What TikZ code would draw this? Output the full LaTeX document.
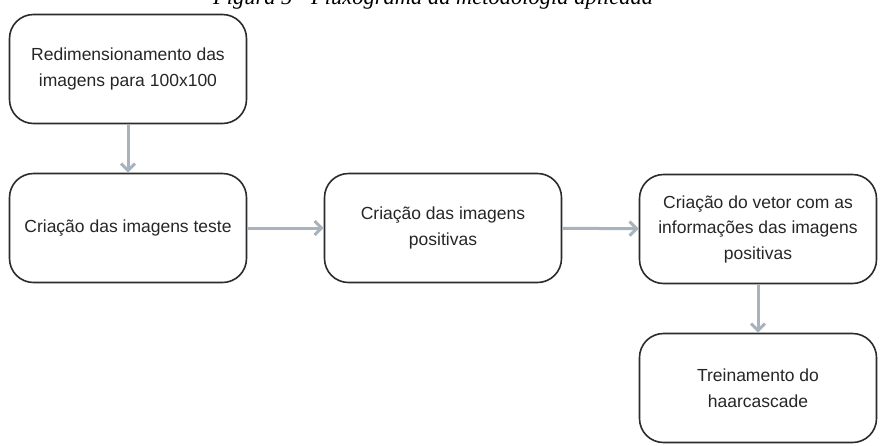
\documentclass[tikz,border=0pt]{standalone}
\usepackage{fontspec}
\setmainfont{Liberation Sans}
\newfontfamily\capfont{Liberation Serif}
\usetikzlibrary{arrows.meta}
\definecolor{flowgray}{HTML}{A8B3BD}
\definecolor{boxline}{HTML}{2B2B2B}
\begin{document}
\begin{tikzpicture}[x=1pt,y=-1pt,
  etapa/.style={draw=boxline,line width=1.6pt,rounded corners=24pt,
    minimum width=237pt,minimum height=109pt,align=center,
    font=\fontsize{17.5}{25.5}\selectfont,text=black!85},
  seta/.style={draw=flowgray,line width=3pt,
    -{Straight Barb[length=7pt,width=14pt,line width=3pt]}}]
\useasboundingbox (0,0) rectangle (881,445);
\node[font=\capfont\itshape\fontsize{22.5}{26}\selectfont,anchor=base] (titulo) at (433,4) {Figura 5 - Fluxograma da metodologia aplicada};
% etapas
\node[etapa] (redim) at (128,69) {Redimensionamento das\\imagens para 100x100};
\node[etapa] (teste) at (128,228) {Criação das imagens teste};
\node[etapa] (posit) at (443,228) {Criação das imagens\\positivas};
\node[etapa] (vetor) at (758,229) {Criação do vetor com as\\informações das imagens\\positivas};
\node[etapa] (treino) at (758,388) {Treinamento do\\haarcascade};
% setas
\draw[seta] (redim) -- (teste);
\draw[seta] (teste) -- (posit);
\draw[seta] (posit) -- (vetor);
\draw[seta] (vetor) -- (treino);
\end{tikzpicture}
\end{document}
